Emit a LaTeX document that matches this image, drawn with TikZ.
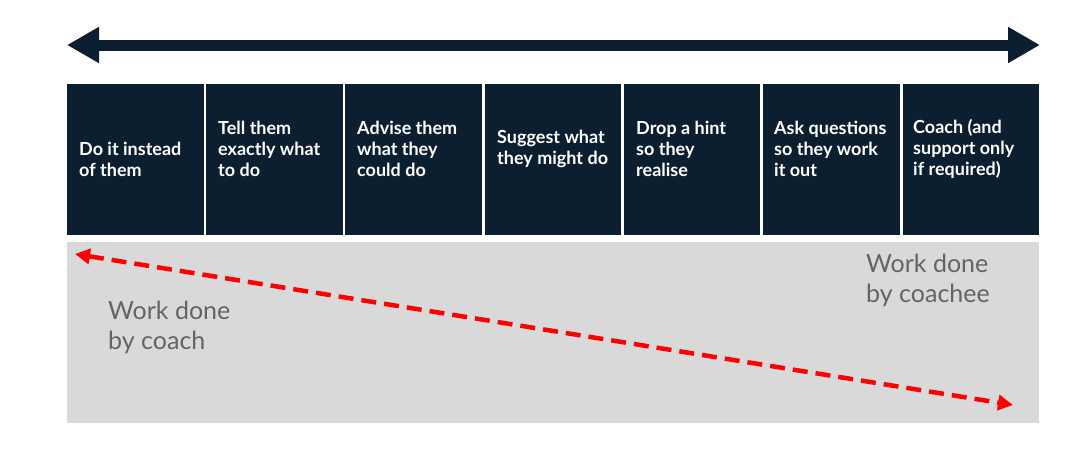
\documentclass[tikz,border=0pt]{standalone}
\usepackage{fontspec}
\setmainfont{Lato}
\usetikzlibrary{arrows.meta}
\definecolor{navy}{RGB}{12,31,48}
\definecolor{panel}{RGB}{217,217,217}
\definecolor{worktext}{RGB}{100,100,100}
\definecolor{redarr}{RGB}{255,0,0}
\tikzset{
  stagebox/.style={fill=navy, draw=none, inner sep=0pt},
  stagetext/.style={anchor=west, align=left, text=white, inner sep=0pt,
    font=\fontsize{18}{21}\selectfont\bfseries},
  worklabel/.style={anchor=north west, align=left, text=worktext, inner sep=0pt,
    font=\fontsize{25}{30}\selectfont},
  toparrow/.style={draw=navy, line width=11pt,
    {Triangle[length=32pt,width=34pt]}-{Triangle[length=32pt,width=34pt]}},
  redarrow/.style={draw=redarr, line width=4.5pt, dash pattern=on 15pt off 8pt,
    {Triangle[length=15pt,width=15pt]}-{Triangle[length=15pt,width=15pt]}}
}
\begin{document}
\begin{tikzpicture}[x=1pt,y=-1pt]
\useasboundingbox (0,0) rectangle (1080,458);
% top double arrow
\coordinate (tl) at (67,45);
\coordinate (tr) at (1040,45);
\draw[toparrow] (tl) -- (tr);
% grey panel
\fill[panel] (67,242) rectangle (1039,423);
% stage boxes
\fill[stagebox] (67,84) rectangle (204,235);
\fill[stagebox] (206,84) rectangle (343,235);
\fill[stagebox] (345,84) rectangle (482,235);
\fill[stagebox] (485,84) rectangle (621,235);
\fill[stagebox] (624,84) rectangle (760,235);
\fill[stagebox] (763,84) rectangle (900,235);
\fill[stagebox] (903,84) rectangle (1039,235);
% stage texts
\node[stagetext] (s1) at (79,159) {Do it instead\\of them};
\node[stagetext] (s2) at (218,149) {Tell them\\exactly what\\to do};
\node[stagetext] (s3) at (357,149) {Advise them\\what they\\could do};
\node[stagetext] (s4) at (497,149) {Suggest what\\they might do};
\node[stagetext] (s5) at (636,149) {Drop a hint\\so they\\realise};
\node[stagetext] (s6) at (774,149) {Ask questions\\so they work\\it out};
\node[stagetext] (s7) at (913,149) {Coach (and\\support only\\if required)};
% work labels
\node[worklabel] (wc) at (108,301) {Work done\\by coach};
\node[worklabel] (wce) at (866,254) {Work done\\by coachee};
% red dashed arrow
\coordinate (ra) at (75,254);
\coordinate (rb) at (1013,405);
\draw[redarrow] (ra) -- (rb);
\end{tikzpicture}
\end{document}
